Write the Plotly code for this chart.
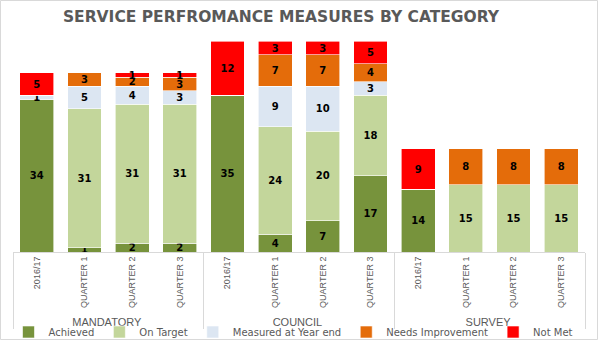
import plotly.graph_objects as go

groups = ["MANDATORY"] * 4 + ["COUNCIL"] * 4 + ["SURVEY"] * 4
periods = ["2016/17", "QUARTER 1", "QUARTER 2", "QUARTER 3"] * 3

achieved = [34, 1, 2, 2, 35, 4, 7, 17, 14, 0, 0, 0]
on_target = [0, 31, 31, 31, 0, 24, 20, 18, 0, 15, 15, 15]
measured = [1, 5, 4, 3, 0, 9, 10, 3, 0, 0, 0, 0]
needs_improvement = [0, 3, 2, 3, 0, 7, 7, 4, 0, 8, 8, 8]
not_met = [5, 0, 1, 1, 12, 3, 3, 5, 9, 0, 0, 0]

series = [
    ("Achieved", achieved, "#77933C"),
    ("On Target", on_target, "#C3D69B"),
    ("Measured at Year end", measured, "#DCE6F2"),
    ("Needs Improvement", needs_improvement, "#E46C0A"),
    ("Not Met", not_met, "#FF0000"),
]

W, H = 599, 341
ML, MR, MT, MB = 13, 14, 28, 89

group_labels = [f"<span style='font-size:11px'>{g}</span>" for g in groups]

fig = go.Figure()
for name, vals, color in series:
    fig.add_trace(go.Bar(
        name=name,
        x=[group_labels, periods],
        y=vals,
        marker=dict(color=color, line=dict(color="white", width=0.6)),
        text=[str(v) if v else "" for v in vals],
        textposition="inside",
        insidetextanchor="middle",
        textangle=0,
        textfont=dict(family="DejaVu Sans", size=10, color="black", weight="bold"),
        hoverinfo="skip",
    ))

pw = W - ML - MR
ph = H - MT - MB

fig.update_layout(
    width=W, height=H,
    barmode="stack",
    bargap=0.29,
    margin=dict(l=ML, r=MR, t=MT, b=MB, autoexpand=False),
    paper_bgcolor="white",
    plot_bgcolor="white",
    title=dict(
        text="<b>SERVICE PERFROMANCE MEASURES BY CATEGORY</b>",
        x=281 / W, xanchor="center", y=1 - 17 / H, yanchor="middle",
        xref="container", yref="container",
        font=dict(family="DejaVu Sans", size=15.5, color="#595959"),
    ),
    uniformtext=dict(minsize=10, mode="show"),
    showlegend=True,
    legend=dict(
        orientation="h", x=0.49, xanchor="center",
        xref="container", yref="container",
        y=1 - 332 / H, yanchor="middle",
        traceorder="normal",
        font=dict(family="DejaVu Sans", size=10, color="#595959"),
        itemwidth=30, tracegroupgap=0,
        bgcolor="rgba(0,0,0,0)",
    ),
    xaxis=dict(
        type="multicategory",
        tickangle=-90,
        tickfont=dict(family="Liberation Sans", size=9, color="#595959"),
        showline=True, linecolor="#D9D9D9", linewidth=1,
        showdividers=True, dividercolor="#D9D9D9", dividerwidth=1,
        ticks="",
        automargin=False,
    ),
    yaxis=dict(
        range=[0, 50], visible=False, showgrid=False, zeroline=False,
    ),
    shapes=[dict(
        type="rect", xref="paper", yref="paper",
        x0=-(ML - 0.5) / pw, x1=1 + (MR - 1.5) / pw,
        y0=-(MB - 1.5) / ph, y1=1 + (MT - 0.5) / ph,
        line=dict(color="#D9D9D9", width=1), layer="below",
    )],
)

fig.write_html("out.html")
